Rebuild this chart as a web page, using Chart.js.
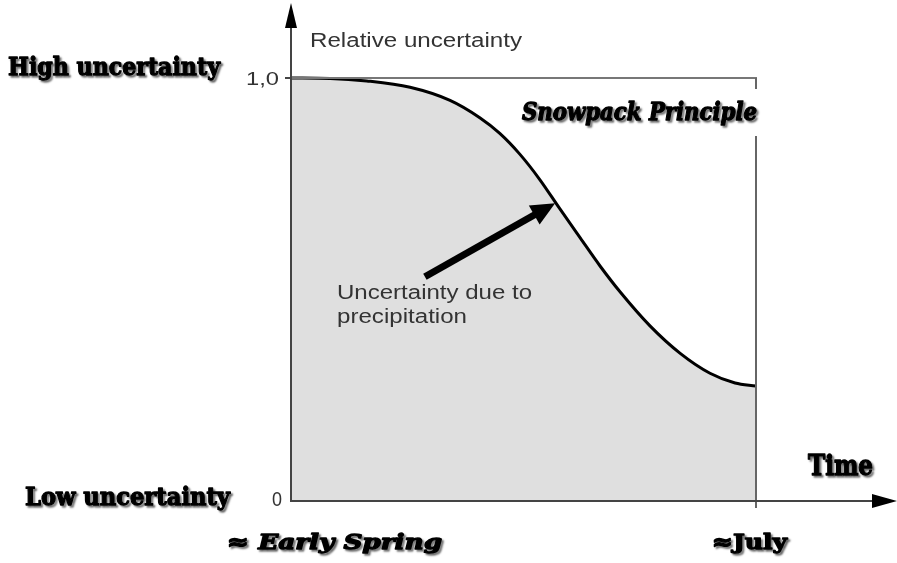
<!DOCTYPE html>
<html>
<head>
<meta charset="utf-8">
<script src="https://cdn.jsdelivr.net/npm/chart.js@4"></script>
<style>
  body { margin: 0; background: #fff; }
  #wrap { width: 897px; height: 563px; }
</style>
</head>
<body>
<div id="wrap"><canvas id="snowChart" width="897" height="563"></canvas></div>
<script>
// time as fraction of the season (early spring = 0, July = 1)
let timeFrac = [0, 0.084, 0.163, 0.256, 0.342, 0.406, 0.449, 0.492, 0.535, 0.578, 0.622, 0.665, 0.708, 0.772, 0.837, 0.901, 0.955, 1.0];
// relative uncertainty
let uncertainty = [1.0, 0.999, 0.993, 0.978, 0.947, 0.906, 0.869, 0.820, 0.760, 0.691, 0.622, 0.555, 0.494, 0.414, 0.349, 0.302, 0.279, 0.272];
// y tick labels
let yTicks = [0, 1];
let yTickLabels = ['0', '1,0'];
// annotation arrow (tail, tip) in data units
let arrowX = [0.288, 0.568];
let arrowY = [0.530, 0.704];

let points = [];
for (let i = 0; i < timeFrac.length; i++) {
  points.push({ x: timeFrac[i], y: uncertainty[i] });
}

//draw text squeezed / stretched to a given width
function fitText(ctx, text, x, y, w, font, heavy) {
  ctx.save();
  ctx.font = font;
  ctx.textAlign = 'left';
  ctx.textBaseline = 'alphabetic';
  let m = ctx.measureText(text).width;
  ctx.translate(x, y);
  ctx.scale(w / m, 1);
  if (heavy) {
    ctx.shadowColor = 'rgba(0,0,0,0.45)';
    ctx.shadowOffsetX = 2;
    ctx.shadowOffsetY = 2;
    ctx.shadowBlur = 2;
    ctx.strokeStyle = ctx.fillStyle;
    ctx.lineWidth = 1.3;
    ctx.lineJoin = 'round';
    ctx.strokeText(text, 0, 0);
  }
  ctx.fillText(text, 0, 0);
  ctx.restore();
}

function line(ctx, x1, y1, x2, y2, color, width) {
  ctx.beginPath();
  ctx.moveTo(x1, y1);
  ctx.lineTo(x2, y2);
  ctx.strokeStyle = color;
  ctx.lineWidth = width;
  ctx.stroke();
}

let decor = {
  id: 'decor',
  afterDatasetsDraw(chart) {
    let ctx = chart.ctx;
    let xs = chart.scales.x, ys = chart.scales.y;
    let x0 = xs.getPixelForValue(0), x1 = xs.getPixelForValue(1);
    let y0 = ys.getPixelForValue(0), y1 = ys.getPixelForValue(1);
    ctx.save();
    // frame lines
    line(ctx, x0, y1, x1 + 1, y1, '#777', 2);
    line(ctx, x1, y1, x1, y0 + 7, '#666', 2);
    // axes
    line(ctx, x0, y0, 875, y0, '#444', 2);
    line(ctx, x0, y0 + 1, x0, 26, '#444', 2);
    line(ctx, x0 - 6, y1, x0, y1, '#444', 2);
    ctx.fillStyle = '#000';
    ctx.beginPath();
    ctx.moveTo(x0, 3); ctx.lineTo(x0 - 6, 28); ctx.lineTo(x0 + 6, 28); ctx.closePath(); ctx.fill();
    ctx.beginPath();
    ctx.moveTo(897, y0); ctx.lineTo(872, y0 - 7); ctx.lineTo(872, y0 + 7); ctx.closePath(); ctx.fill();

    // tick labels
    ctx.fillStyle = '#333';
    fitText(ctx, yTickLabels[1], 246, ys.getPixelForValue(yTicks[1]) + 7, 33, '19px "Liberation Sans"');
    fitText(ctx, yTickLabels[0], 272, ys.getPixelForValue(yTicks[0]) + 5, 10, '20px "Liberation Sans"');
    fitText(ctx, 'Relative uncertainty', 310, 47, 212, '20px "Liberation Sans"');
    fitText(ctx, 'Uncertainty due to', 337, 299, 195, '20px "Liberation Sans"');
    fitText(ctx, 'precipitation', 337, 323, 130, '20px "Liberation Sans"');

    // arrow
    let ax = xs.getPixelForValue(arrowX[0]), ay = ys.getPixelForValue(arrowY[0]);
    let bx = xs.getPixelForValue(arrowX[1]), by = ys.getPixelForValue(arrowY[1]);
    let ang = Math.atan2(by - ay, bx - ax);
    let hl = 24, hw = 11;
    let hx = bx - hl * Math.cos(ang), hy = by - hl * Math.sin(ang);
    line(ctx, ax, ay, hx + 2 * Math.cos(ang), hy + 2 * Math.sin(ang), '#000', 7);
    ctx.fillStyle = '#000';
    ctx.beginPath();
    ctx.moveTo(bx, by);
    ctx.lineTo(hx + hw * Math.sin(ang), hy - hw * Math.cos(ang));
    ctx.lineTo(hx - hw * Math.sin(ang), hy + hw * Math.cos(ang));
    ctx.closePath();
    ctx.fill();

    // white patch behind title
    ctx.fillStyle = '#fff';
    ctx.fillRect(515, 89, 246, 47);

    // bold labels
    ctx.fillStyle = '#000';
    fitText(ctx, 'High uncertainty', 8, 75, 212, 'bold 25px "DejaVu Serif"', true);
    fitText(ctx, 'Low uncertainty', 25, 505, 205, 'bold 25px "DejaVu Serif"', true);
    fitText(ctx, 'Snowpack Principle', 522, 120, 235, 'bold italic 24px "DejaVu Serif"', true);
    fitText(ctx, 'Time', 808, 475, 65, 'bold 27px "DejaVu Serif"', true);
    fitText(ctx, '\u2248 Early Spring', 227, 549, 215, 'bold italic 21px "DejaVu Serif"', true);
    fitText(ctx, '\u2248July', 712, 549, 75, 'bold 21px "DejaVu Serif"', true);
    ctx.restore();
  }
};

let elChart = document.getElementById('snowChart').getContext('2d');
let snowChart = new Chart(elChart, {
  type: 'line',
  data: {
    datasets: [{
      label: 'Relative uncertainty',
      data: points,
      borderColor: '#000',
      borderWidth: 3,
      backgroundColor: '#dfdfdf',
      fill: 'origin',
      pointRadius: 0,
      cubicInterpolationMode: 'monotone',
      clip: 6
    }]
  },
  options: {
    responsive: false,
    animation: false,
    layout: { padding: { left: 291, right: 141, top: 78, bottom: 62 } },
    plugins: { legend: { display: false }, tooltip: { enabled: false } },
    scales: {
      x: { type: 'linear', min: 0, max: 1, display: false },
      y: { type: 'linear', min: 0, max: 1, display: false }
    }
  },
  plugins: [decor]
});
</script>
</body>
</html>
